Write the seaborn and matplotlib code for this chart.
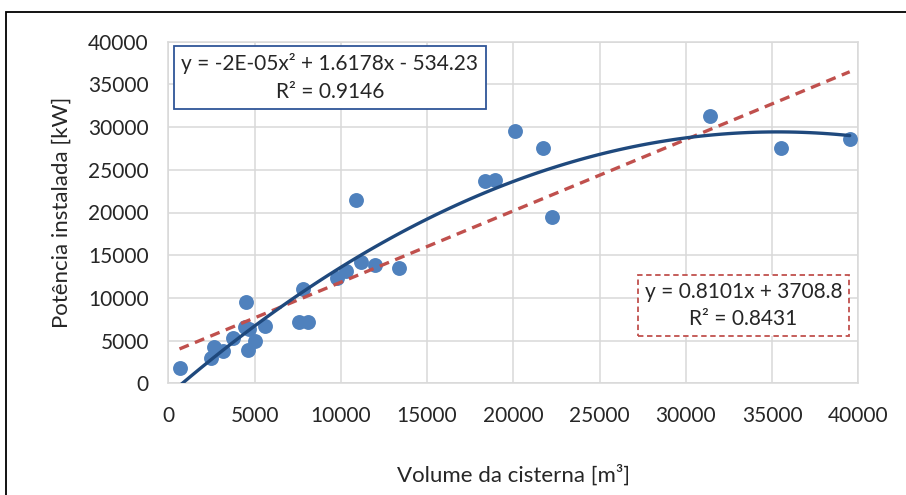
import numpy as np
import pandas as pd
import matplotlib
matplotlib.use("Agg")
import matplotlib.pyplot as plt
from matplotlib.patches import Rectangle
import seaborn as sns

# values
volume = [650, 2450, 2650, 3150, 3750, 4500, 4450, 4700, 5000, 4600,
          5600, 7550, 8100, 7800, 9800, 10300, 11150, 12000, 13400, 10900,
          18350, 18950, 20100, 21700, 22250, 31400, 35500, 39500]
potencia = [1800, 3000, 4200, 3800, 5350, 9500, 6600, 6300, 5000, 3850,
            6700, 7150, 7150, 11100, 12300, 13200, 14250, 13900, 13500, 21500,
            23650, 23850, 29500, 27500, 19500, 31300, 27600, 28650]

eq_poly = "y = -2E-05x² + 1.6178x - 534.23\nR² = 0.9146"
eq_lin = "y = 0.8101x + 3708.8\nR² = 0.8431"
ticks = [0, 5000, 10000, 15000, 20000, 25000, 30000, 35000, 40000]

df = pd.DataFrame({"volume": volume, "potencia": potencia})

sns.set_style("white")
plt.rcParams["font.family"] = ["Lato", "DejaVu Sans"]

fig = plt.figure(figsize=(9.06, 4.95), dpi=100)
ax = fig.add_axes([168.3 / 906, 1 - 383.3 / 495, 690 / 906, 341.6 / 495])

# outer chart frame (cropped at right and bottom)
fig.patches.append(Rectangle((6 / 906, -0.1), 1.2, 1 - 12 / 495 + 0.1,
                             transform=fig.transFigure, fill=False,
                             edgecolor="black", linewidth=1.3))

sns.scatterplot(data=df, x="volume", y="potencia", ax=ax, color="#4f81bd",
                s=115, linewidth=0, zorder=3)
# linear and 2nd order trendlines
sns.regplot(data=df, x="volume", y="potencia", ax=ax, order=1, ci=None,
            scatter=False, line_kws={"color": "#c0504d", "lw": 2.4,
                                     "ls": (0, (3, 2)), "zorder": 4})
sns.regplot(data=df, x="volume", y="potencia", ax=ax, order=2, ci=None,
            scatter=False, line_kws={"color": "#1f497d", "lw": 2.4, "zorder": 5})

ax.set_xlim(0, 40000)
ax.set_ylim(0, 40000)
ax.set_xticks(ticks)
ax.set_yticks(ticks)
ax.grid(True, color="#d9d9d9", linewidth=1.1)
ax.set_axisbelow(True)
for sp in ax.spines.values():
    sp.set_color("#d9d9d9")
    sp.set_linewidth(1.1)
ax.tick_params(axis="x", length=0, pad=16, labelsize=15)
ax.tick_params(axis="y", length=0, pad=14, labelsize=15)
ax.set_xlabel("Volume da cisterna [m³]", fontsize=16, labelpad=28)
ax.set_ylabel("Potência instalada [kW]", fontsize=16, labelpad=12)

ax.text(0.2343, 0.895, eq_poly, transform=ax.transAxes, ha="center",
        va="center", fontsize=15, multialignment="center", zorder=6,
        linespacing=1.45,
        bbox=dict(boxstyle="square,pad=0.36", fc="white", ec="#2f5597", lw=1.3))
ax.text(0.8336, 0.2278, eq_lin, transform=ax.transAxes, ha="center",
        va="center", fontsize=15, multialignment="center", zorder=6,
        linespacing=1.45,
        bbox=dict(boxstyle="square,pad=0.33", fc="white", ec="#c0504d", lw=1.3,
                  ls=(0, (3, 2))))

fig.savefig("out.png", dpi=100, facecolor="white")
